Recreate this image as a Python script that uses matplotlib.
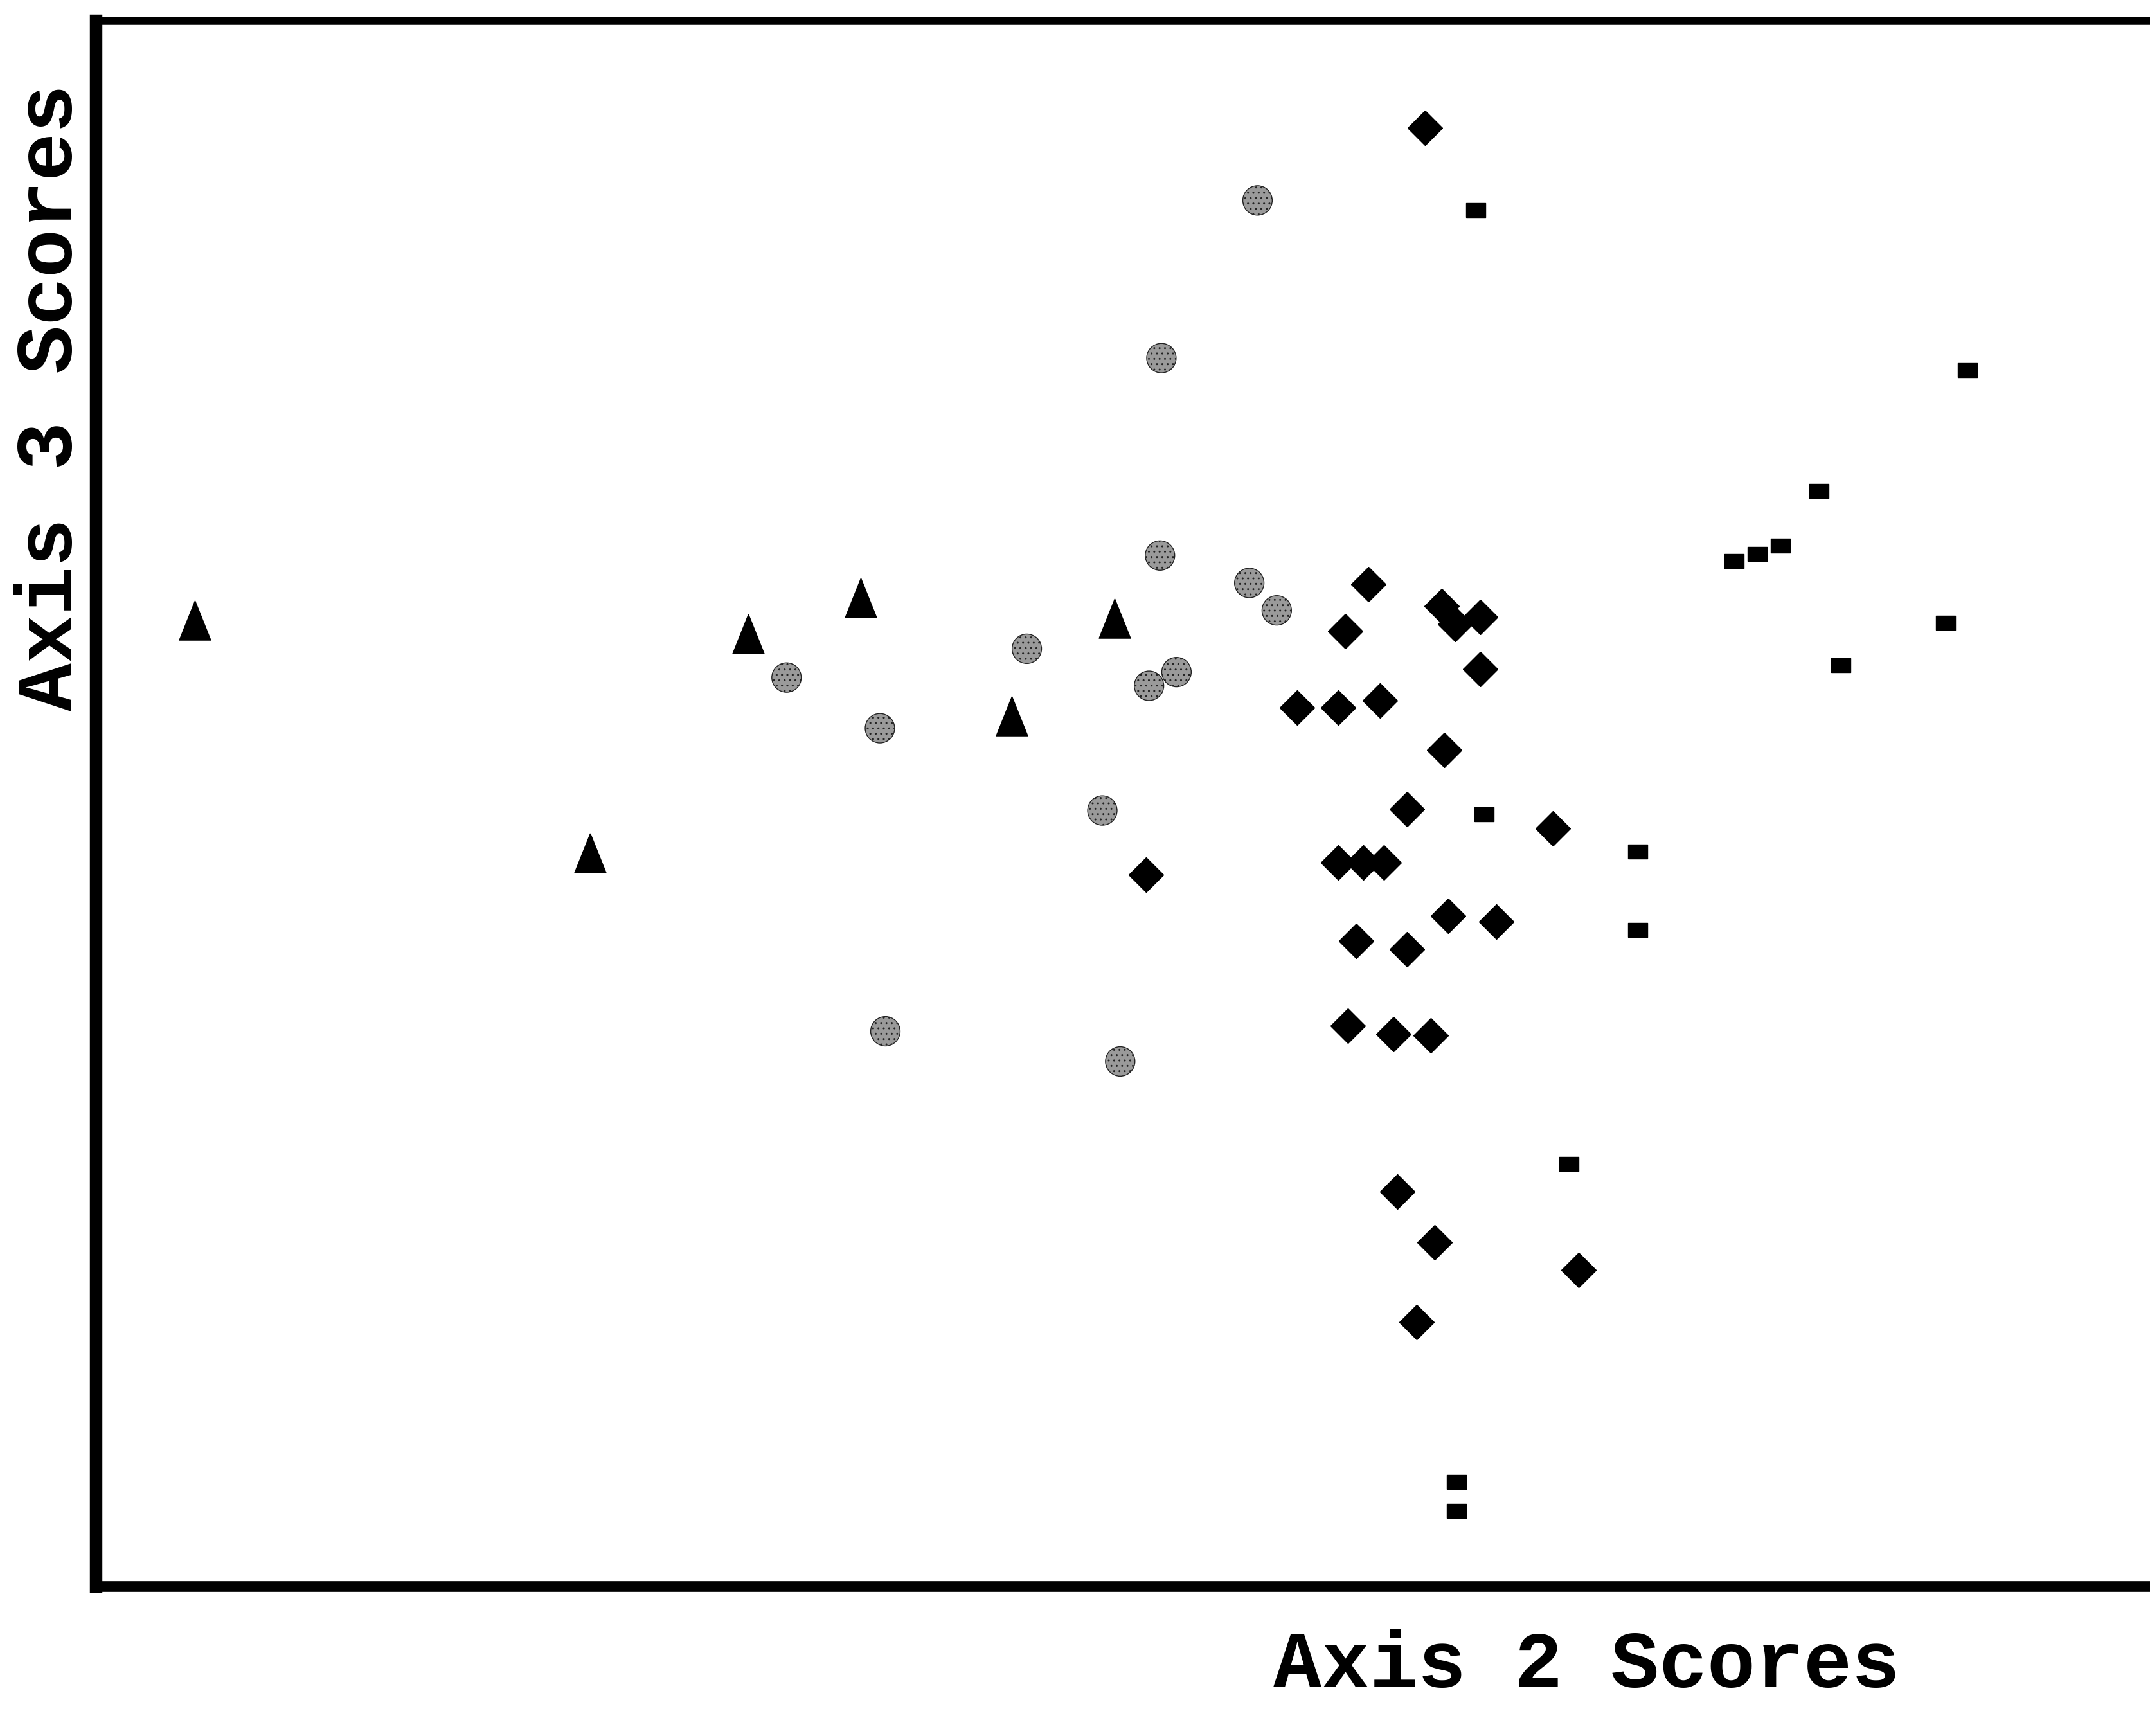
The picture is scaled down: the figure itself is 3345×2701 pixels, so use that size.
import matplotlib.pyplot as plt

# Ordination scores (arbitrary units, no ticks on the original)
# group: solid triangles
tri_x = [72, 360, 475, 557, 742, 667]
tri_y = [705, 535, 695, 721, 706, 635]

# group: stippled circles
dot_x = [503, 571, 678, 775, 776, 846, 733, 767, 787, 840, 860, 575, 746]
dot_y = [663, 626, 684, 752, 896, 1011, 566, 657, 667, 732, 712, 405, 383]

# group: solid diamonds
dia_x = [968, 927, 910, 980, 990, 1008, 1008, 875, 905, 935, 982, 955, 1061,
         765, 905, 923, 938, 985, 1020, 918, 955, 912, 945, 972, 948, 975, 1080, 962]
dia_y = [1064, 731, 697, 715, 702, 707, 669, 641, 641, 646, 610, 567, 553,
         519, 528, 528, 528, 489, 485, 471, 465, 409, 403, 402, 288, 251, 231, 193]

# group: small squares
sq_x = [1005, 1363, 1255, 1193, 1210, 1227, 1347, 1271, 1011, 1123, 1123, 1073, 991, 991]
sq_y = [1004, 887, 799, 748, 753, 759, 703, 672, 563, 536, 479, 308, 76, 55]

x_min, x_max = 0, 1496
y_min, y_max = 0, 1142

fig = plt.figure(figsize=(33.45, 27.01), dpi=100)
ax = fig.add_axes([0.0446, 0.0861, 0.9554, 0.9019])

tri_marker = [(0, 1), (-0.8, -1), (0.8, -1), (0, 1)]
sq_marker = [(-1.3, -1), (1.3, -1), (1.3, 1), (-1.3, 1), (-1.3, -1)]

ax.plot(tri_x, tri_y, linestyle='none', marker=tri_marker, markersize=44,
        color='black')
ax.scatter(dot_x, dot_y, s=33 ** 2, marker='o', facecolors='#9a9a9a',
           edgecolors='#222222', linewidths=1.0, hatch='..')
ax.plot(dia_x, dia_y, linestyle='none', marker='D', markersize=28,
        color='black')
ax.plot(sq_x, sq_y, linestyle='none', marker=sq_marker, markersize=21,
        color='black')

ax.set_xlim(x_min, x_max)
ax.set_ylim(y_min, y_max)
ax.set_xticks([])
ax.set_yticks([])
ax.spines['left'].set_linewidth(14)
ax.spines['bottom'].set_linewidth(12)
ax.spines['top'].set_linewidth(9)
ax.spines['right'].set_visible(False)

font = dict(family='Liberation Mono', fontweight='bold', fontsize=90)
fig.text(0.024, 0.771, 'Axis 3 Scores', rotation=90, ha='center', va='center', **font)
fig.text(0.738, 0.040, 'Axis 2 Scores', ha='center', va='center', **font)

fig.savefig('out.png', dpi=100)
